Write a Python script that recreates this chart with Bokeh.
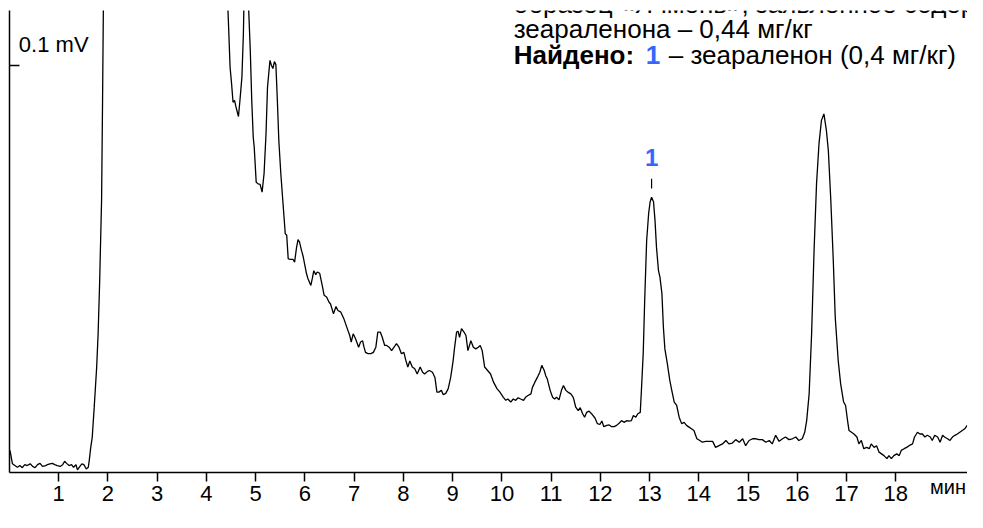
from bokeh.plotting import figure
from bokeh.models import FixedTicker, Range1d, Label, ColumnDataSource
from bokeh.core.properties import value
from bokeh.embed import file_html
from bokeh.resources import INLINE

# ---- chromatogram trace (time in min, signal in µV; 100 µV = 0.1 mV) ----
time_min = [
    0.01, 0.06, 0.11, 0.16, 0.21, 0.26, 0.31, 0.36, 0.42, 0.47,
    0.52, 0.57, 0.62, 0.67, 0.72, 0.77, 0.82, 0.87, 0.92, 0.97,
    1.03, 1.08, 1.12, 1.16, 1.21, 1.26, 1.30, 1.35, 1.38, 1.43,
    1.47, 1.51, 1.56, 1.60, 1.62, 1.65, 1.68, 1.72, 1.77, 1.80,
    1.83, 1.87, 1.89, 1.91, 1.93, 4.40, 4.42, 4.48, 4.51, 4.54,
    4.57, 4.60, 4.65, 4.68, 4.72, 4.75, 4.77, 4.84, 4.89, 4.92,
    4.95, 4.97, 5.01, 5.05, 5.09, 5.13, 5.17, 5.21, 5.24, 5.29,
    5.32, 5.35, 5.38, 5.41, 5.44, 5.47, 5.51, 5.55, 5.60, 5.63,
    5.66, 5.70, 5.76, 5.79, 5.83, 5.86, 5.89, 5.93, 5.96, 6.00,
    6.03, 6.06, 6.12, 6.15, 6.18, 6.22, 6.25, 6.30, 6.36, 6.39,
    6.44, 6.49, 6.52, 6.58, 6.63, 6.67, 6.73, 6.79, 6.86, 6.91,
    6.94, 6.98, 7.03, 7.09, 7.13, 7.17, 7.20, 7.23, 7.28, 7.34,
    7.39, 7.44, 7.48, 7.53, 7.57, 7.62, 7.66, 7.71, 7.76, 7.81,
    7.86, 7.91, 7.96, 8.01, 8.05, 8.09, 8.13, 8.18, 8.23, 8.28,
    8.34, 8.39, 8.43, 8.49, 8.53, 8.59, 8.64, 8.68, 8.72, 8.77,
    8.81, 8.86, 8.91, 8.96, 9.01, 9.04, 9.08, 9.11, 9.14, 9.18,
    9.23, 9.27, 9.31, 9.37, 9.42, 9.47, 9.52, 9.56, 9.60, 9.65,
    9.71, 9.77, 9.83, 9.90, 9.96, 10.03, 10.08, 10.12, 10.18, 10.23,
    10.28, 10.33, 10.38, 10.44, 10.48, 10.53, 10.59, 10.62, 10.67, 10.72,
    10.77, 10.81, 10.86, 10.89, 10.92, 10.98, 11.03, 11.07, 11.11, 11.16,
    11.21, 11.25, 11.30, 11.34, 11.40, 11.45, 11.50, 11.55, 11.59, 11.64,
    11.68, 11.72, 11.77, 11.82, 11.89, 11.94, 11.99, 12.03, 12.07, 12.13,
    12.18, 12.23, 12.28, 12.33, 12.38, 12.43, 12.48, 12.54, 12.58, 12.63,
    12.67, 12.72, 12.76, 12.81, 12.83, 12.87, 12.90, 12.94, 12.98, 13.01,
    13.04, 13.08, 13.11, 13.14, 13.18, 13.21, 13.25, 13.28, 13.31, 13.36,
    13.41, 13.45, 13.50, 13.55, 13.60, 13.65, 13.70, 13.75, 13.80, 13.85,
    13.90, 13.96, 14.02, 14.07, 14.14, 14.21, 14.28, 14.34, 14.41, 14.48,
    14.55, 14.61, 14.68, 14.75, 14.82, 14.89, 14.95, 15.02, 15.09, 15.16,
    15.22, 15.29, 15.36, 15.43, 15.49, 15.56, 15.63, 15.70, 15.76, 15.83,
    15.90, 15.97, 16.03, 16.10, 16.15, 16.19, 16.24, 16.29, 16.34, 16.39,
    16.44, 16.49, 16.54, 16.59, 16.63, 16.68, 16.73, 16.77, 16.83, 16.88,
    16.94, 16.98, 17.02, 17.05, 17.10, 17.15, 17.21, 17.25, 17.30, 17.35,
    17.41, 17.46, 17.50, 17.56, 17.61, 17.66, 17.71, 17.76, 17.82, 17.86,
    17.91, 17.96, 18.02, 18.07, 18.11, 18.17, 18.22, 18.27, 18.34, 18.38,
    18.44, 18.49, 18.54, 18.59, 18.64, 18.70, 18.74, 18.79, 18.85, 18.90,
    18.95, 18.99, 19.05, 19.10, 19.15, 19.20, 19.25, 19.30, 19.35, 19.40,
    19.45, 19.51, 19.56, 19.60, 19.64, 19.70, 19.73, 19.76, 19.79,
]
signal_uv = [
    10.9, 7.8, 7.4, 7.0, 7.4, 6.9, 7.6, 7.4, 7.8, 7.2,
    6.9, 7.6, 7.9, 7.2, 7.3, 7.6, 7.8, 7.9, 7.6, 7.4,
    7.2, 7.6, 8.4, 7.9, 7.4, 7.6, 7.0, 7.6, 6.4, 7.2,
    7.8, 7.6, 6.6, 7.0, 8.6, 11.6, 13.9, 20.8, 30.1, 38.0,
    49.5, 68.8, 91.9, 118.0, 200.0, 200.0, 118.0, 99.6, 95.8, 91.5,
    91.9, 90.4, 88.2, 91.9, 97.3, 107.3, 120.0, 118.0, 103.5, 91.9,
    83.4, 81.1, 73.0, 72.6, 72.5, 70.7, 75.0, 84.3, 95.0, 101.2,
    100.0, 99.3, 100.9, 100.2, 91.9, 82.6, 75.0, 68.8, 61.1, 60.7,
    55.3, 55.1, 55.1, 54.5, 57.9, 59.7, 59.1, 57.2, 56.0, 53.7,
    51.9, 50.7, 49.1, 50.7, 52.5, 51.6, 52.2, 51.9, 48.6, 46.8,
    46.4, 45.2, 44.8, 42.5, 44.2, 43.3, 42.9, 41.4, 39.1, 37.5,
    36.0, 37.9, 36.7, 34.8, 36.0, 36.3, 34.8, 33.6, 33.3, 33.3,
    33.6, 34.8, 38.3, 38.3, 37.1, 35.2, 35.2, 34.8, 34.0, 34.8,
    35.6, 34.8, 33.3, 33.6, 31.7, 30.2, 31.6, 30.2, 29.8, 28.6,
    30.2, 29.0, 28.6, 29.2, 29.4, 29.0, 27.8, 24.4, 24.4, 24.8,
    23.8, 24.1, 25.2, 27.8, 31.7, 34.8, 38.3, 38.5, 37.1, 39.1,
    38.3, 37.5, 34.0, 36.3, 34.8, 34.4, 34.8, 35.2, 34.0, 30.2,
    29.4, 28.6, 26.7, 25.2, 24.4, 23.2, 22.5, 22.8, 22.1, 22.8,
    22.5, 23.1, 22.8, 22.5, 23.2, 23.6, 24.0, 25.5, 26.7, 27.8,
    29.0, 30.6, 29.4, 28.2, 27.5, 24.8, 23.2, 22.8, 23.2, 22.6,
    24.8, 25.9, 24.8, 24.4, 24.0, 23.2, 20.9, 20.1, 20.8, 19.4,
    18.6, 19.7, 20.0, 19.4, 18.4, 17.1, 16.9, 17.7, 16.4, 16.7,
    16.8, 16.4, 16.4, 16.7, 17.2, 17.8, 17.4, 17.8, 17.7, 17.8,
    19.0, 18.6, 19.4, 19.7, 24.0, 33.3, 45.6, 59.5, 65.7, 68.4,
    69.5, 68.4, 64.1, 57.9, 52.5, 51.0, 47.2, 39.4, 34.4, 31.0,
    27.1, 24.8, 22.1, 21.3, 18.6, 17.1, 17.4, 16.7, 16.3, 15.9,
    15.5, 13.6, 13.2, 12.8, 13.0, 13.0, 13.0, 11.6, 12.0, 12.4,
    13.2, 12.4, 12.6, 13.4, 12.8, 13.6, 12.0, 13.2, 13.6, 13.6,
    13.4, 13.4, 12.8, 13.2, 12.4, 14.4, 13.0, 13.6, 14.0, 13.4,
    13.6, 14.0, 13.2, 13.6, 15.1, 17.8, 24.0, 37.9, 57.2, 72.6,
    81.9, 87.3, 88.8, 85.0, 80.3, 68.8, 54.9, 41.7, 31.7, 26.3,
    22.1, 21.3, 17.8, 15.5, 15.1, 14.7, 14.0, 12.4, 13.2, 11.3,
    11.6, 11.3, 12.4, 11.6, 12.0, 10.5, 10.1, 9.7, 9.0, 9.7,
    9.0, 9.7, 10.1, 9.7, 10.9, 11.3, 11.6, 12.0, 12.4, 14.0,
    15.1, 14.7, 14.7, 14.0, 14.4, 14.0, 13.2, 14.4, 14.0, 12.8,
    14.4, 14.0, 13.6, 13.2, 14.0, 14.4, 14.7, 15.1, 15.5, 15.9,
    16.7, 17.4, 17.1, 16.7, 17.2, 16.7, 15.5, 15.3, 15.9,
]

# ---- axes ----
x_ticks = list(range(1, 19))
x_tick_labels = [str(t) for t in x_ticks]
y_ticks = [100]
y_tick_label = "0.1 mV"
x_unit_label = "мин"

# ---- identified peak ----
peak_times = [13.04]
peak_heights = [69.5]
peak_labels = ["1"]

# ---- annotation text ----
info_lines = ["образец «Ячмень», заявленное содержание",
              "зеараленона – 0,44 мг/кг"]
found_head = "Найдено:"
found_rest = "– зеараленон (0,4 мг/кг)"

BLUE = "#3366ff"
FONT = "Liberation Sans"

p = figure(width=967, height=512,
           x_range=Range1d(0, 19.456), y_range=Range1d(5.79, 112.73),
           output_backend="svg", toolbar_location=None,
           min_border_left=9, min_border_top=10, min_border_right=0,
           min_border_bottom=40)
p.outline_line_color = None
p.grid.visible = False
p.background_fill_color = "white"
p.border_fill_color = "white"

xa = p.xaxis[0]
xa.ticker = FixedTicker(ticks=x_ticks)
xa.major_label_overrides = {t: l for t, l in zip(x_ticks, x_tick_labels)}
xa.minor_tick_line_color = None
xa.major_tick_in = 0
xa.major_tick_out = 9
xa.major_label_standoff = 4
xa.major_label_text_font = FONT
xa.major_label_text_font_size = "22px"
xa.major_label_text_color = "black"
xa.axis_line_width = 1.5
xa.axis_line_color = "black"
xa.major_tick_line_width = 1.5

# unit label at the right end of the time axis (centred on the axis end,
# padded with no-break spaces so the word itself ends at the axis end)
xa.axis_label = x_unit_label + "\u00a0" * 7
xa.axis_label_standoff = -28
xa.axis_label_text_font = FONT
xa.axis_label_text_font_size = "20px"
xa.axis_label_text_font_style = "normal"
xa.axis_label_text_color = "black"
try:
    xa.axis_label_align = "end"
except Exception:
    pass

ya = p.yaxis[0]
ya.ticker = FixedTicker(ticks=y_ticks)
ya.major_label_overrides = {y_ticks[0]: ""}
ya.minor_tick_line_color = None
ya.major_tick_in = 10
ya.major_tick_out = 0
ya.major_label_standoff = 0
ya.axis_line_width = 1.5
ya.axis_line_color = "black"
ya.major_tick_line_width = 1.5

src = ColumnDataSource(dict(t=time_min, s=signal_uv))
p.line("t", "s", source=src, line_color="black", line_width=1.3)

# y tick label inside plot
p.add_layout(Label(x=0.19, y=y_ticks[0], y_offset=21, text=y_tick_label,
                   text_font=FONT, text_font_size="22px", text_color="black",
                   text_baseline="alphabetic"))

# peak marker
psrc = ColumnDataSource(dict(x=peak_times, y=peak_heights, txt=peak_labels,
                             y0=[h + 2.0 for h in peak_heights],
                             y1=[h + 4.3 for h in peak_heights]))
p.segment(x0="x", y0="y0", x1="x", y1="y1", source=psrc,
          line_color="black", line_width=1.2)
p.text(x="x", y="y", text="txt", source=psrc, y_offset=-40,
       text_align="center", text_baseline="middle",
       text_font=value(FONT), text_font_style="bold",
       text_font_size="24px", text_color=BLUE)

# info text block
tx = 10.24
top = 112.73
offs = [7, -18]
for line, off in zip(info_lines, offs):
    p.add_layout(Label(x=tx, y=top, y_offset=off, text=line,
                       text_font=FONT, text_font_size="26px",
                       text_color="black", text_baseline="alphabetic"))
p.add_layout(Label(x=tx, y=top, y_offset=-44, text=found_head,
                   text_font=FONT, text_font_size="26px",
                   text_font_style="bold", text_color="black",
                   text_baseline="alphabetic"))
p.add_layout(Label(x=tx, y=top, x_offset=132, y_offset=-44, text=peak_labels[0],
                   text_font=FONT, text_font_size="26px",
                   text_font_style="bold", text_color=BLUE,
                   text_baseline="alphabetic"))
p.add_layout(Label(x=tx, y=top, x_offset=155, y_offset=-44, text=found_rest,
                   text_font=FONT, text_font_size="26px",
                   text_color="black", text_baseline="alphabetic"))

open("out.html", "w").write(file_html(p, INLINE))
